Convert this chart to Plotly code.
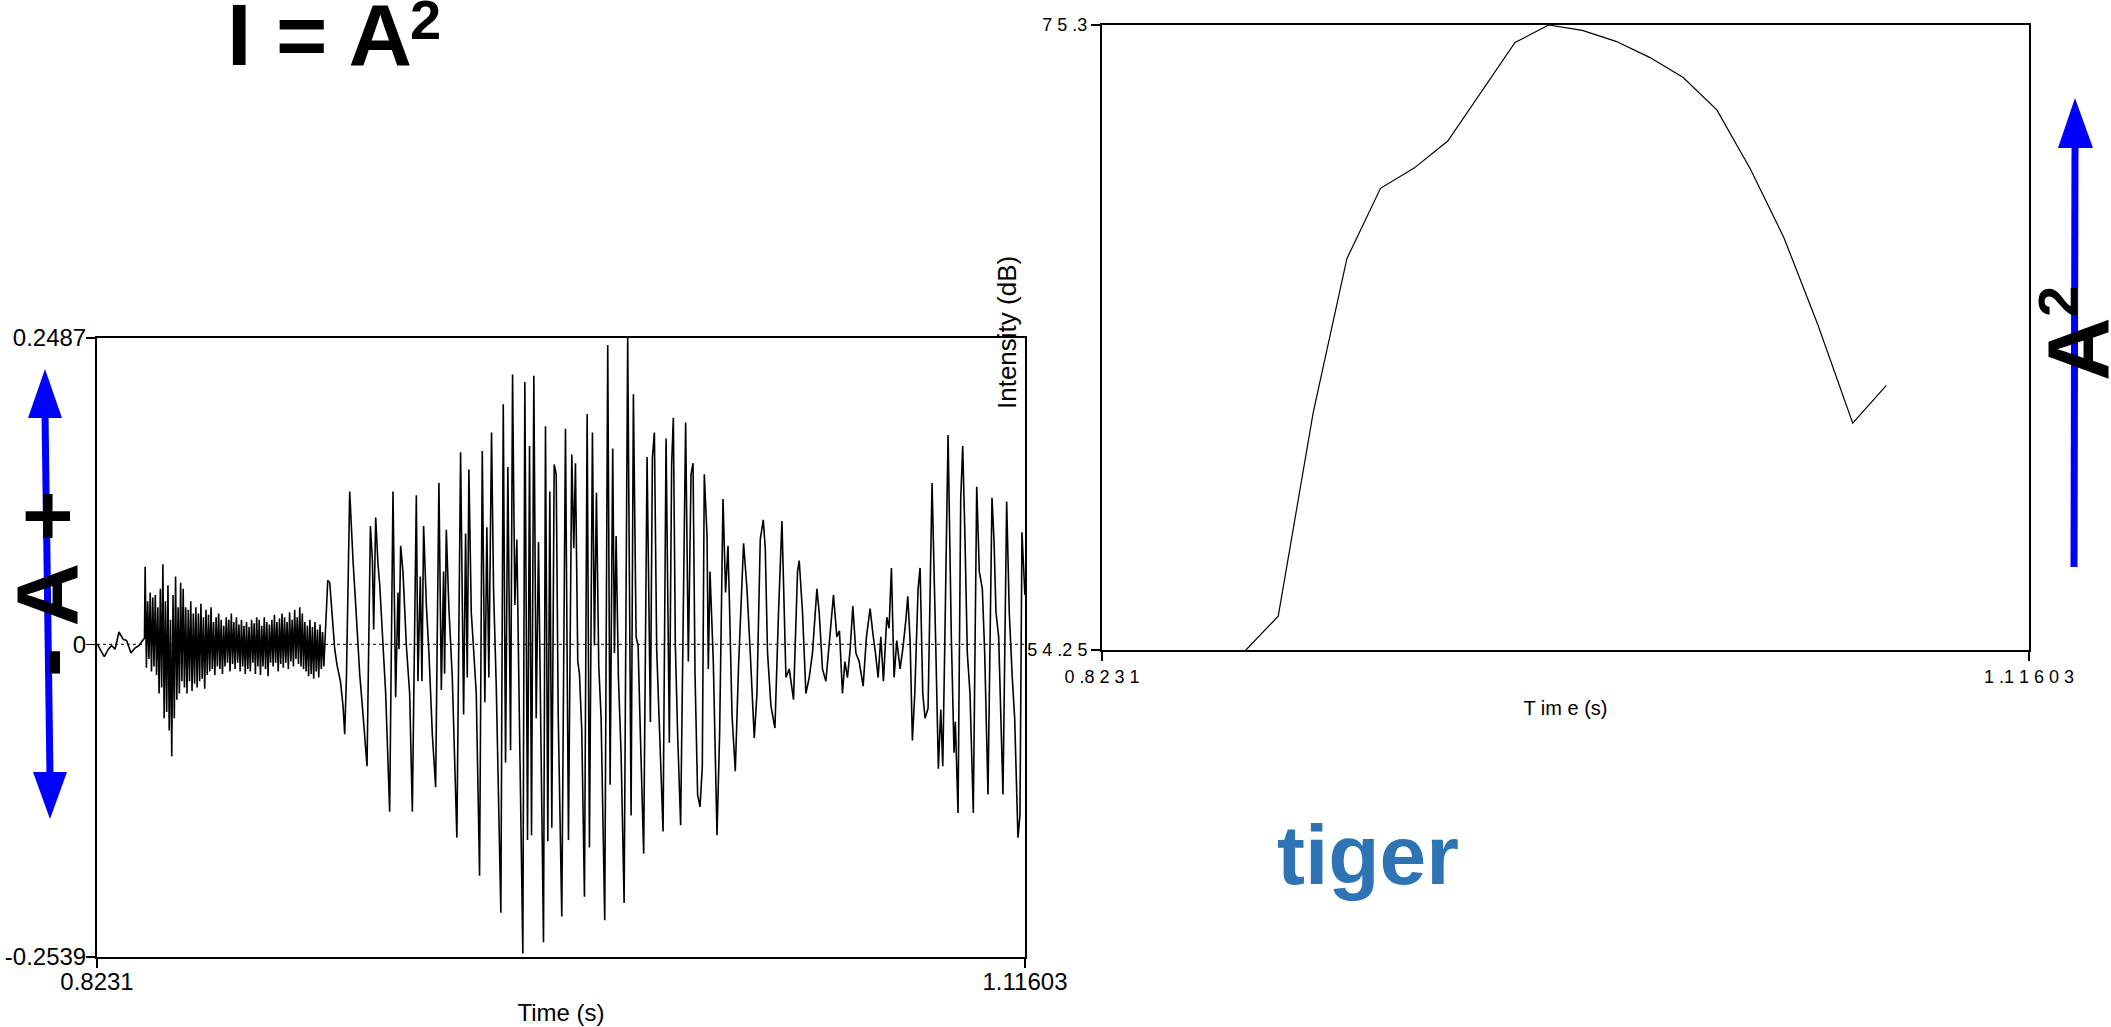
import plotly.graph_objects as go

W, H = 2111, 1027

# ---------------- data ----------------
T_START = 0.8231
T_END = 1.11603
AMP_MIN = -0.2539
AMP_MAX = 0.2487
DB_MIN = 54.25
DB_MAX = 75.3

# waveform, times in ms after T_START, amplitudes in thousandths
pre_ms = [0.22, 0.95, 2.30, 3.56, 4.63, 5.68, 6.94, 8.29, 9.36, 10.72, 11.98, 13.24, 14.41, 14.98]
pre_amp = [0, -4, -10, -4, -1, -4, 10, 4, 3, -7, -3, -1, 3, 5]

# aspiration noise ("t" burst), sampled every 0.4 ms from 15.2 ms
burst_start_ms = 15.2
burst_step_ms = 0.4
burst_amp = [63, -19, 35, -12, 42, -22, 38, -18, 40, -25,
             30, -40, 45, -35, 65, -60, 35, -55, 48, -70,
             20, -91, 40, -60, 55, -45, 30, -40, 50, -30,
             45, -35, 30, -40, 28, -30, 35, -38, 25, -32,
             30, -35, 25, -30, 33, -28, 22, -36, 28, -25,
             24, -22, 30, -20, 18, -25, 22, -18, 25, -20,
             20, -24, 15, -18, 22, -15, 20, -22, 25, -16,
             18, -20, 22, -15, 16, -22, 20, -18, 15, -24,
             18, -20, 14, -22, 20, -15, 17, -24, 22, -18,
             20, -25, 15, -18, 22, -20, 18, -26, 16, -15,
             20, -18, 24, -15, 18, -22, 21, -16, 25, -19,
             22, -15, 18, -20, 26, -14, 20, -18, 28, -12,
             22, -16, 30, -18, 25, -20, 18, -22, 15, -26,
             20, -24, 14, -28, 18, -22, 12, -27, 16, -20, 10, -18]

vowel_a_ms = [72.84, 73.47, 74.31, 75.04, 75.77, 76.84, 77.66, 78.19, 78.73, 79.77, 80.81, 81.66, 82.92, 83.97,
              85.23, 86.30, 86.93, 87.34, 87.97, 88.70, 89.23, 90.08, 91.12, 92.38, 93.43, 94.27, 95.00, 95.32,
              95.85, 96.58, 97.65, 98.69, 99.54, 100.80, 101.31, 102.06, 102.57, 103.10, 103.96, 104.78, 105.85,
              106.89, 107.93, 108.69, 109.41, 109.72, 110.26, 111.08, 112.15, 113.60, 114.77, 115.72, 116.35,
              116.88, 117.39, 118.14, 118.87, 119.72, 120.76, 121.61, 122.43, 123.06, 123.69, 124.54, 125.17,
              126.03, 127.48, 128.24, 128.96, 129.69, 130.54, 131.17, 131.89, 132.53, 133.16, 134.42, 135.05,
              135.90, 136.53, 137.16, 137.89, 138.64, 139.37, 139.90, 140.94, 141.57, 142.30, 142.93, 143.56,
              144.32, 144.95, 145.58, 146.71, 147.88]
vowel_a_amp = [52, 50, 21, -4, -17, -30, -50, -73, -27, 124, 68, 32, -24, -57,
               -99, 96, 68, 12, 103, 65, 49, 9, -40, -136, 124, -43, 42, -4,
               80, 59, -1, -40, -136, 121, -30, 55, -30, 96, 32, -7, -73,
               -116, 131, -37, 59, -24, 93, 29, -27, -157, 156, -57, 90,
               -27, 142, 26, -4, -40, -188, 157, -47, 95, -27, 172, 45,
               -34, -218, 195, -96, 144, -86, 219, 32, 85, -30, -251, 213,
               -159, 161, -155, 218, -60, 83, -30, -242, 177, -160, 124, -149,
               146, 138, -57, -221, 175]

vowel_b_ms = [148.82, 149.87, 150.50, 151.03, 151.76, 152.29, 153.02, 153.87, 154.72, 155.44, 156.39, 157.02,
              157.65, 158.38, 159.13, 160.27, 161.22, 161.97, 162.79, 163.33, 163.86, 164.59, 165.44, 166.39,
              167.52, 168.59, 169.32, 170.17, 170.80, 171.52, 172.56, 173.63, 174.68, 175.31, 175.94, 176.67,
              177.61, 178.68, 179.63, 180.67, 181.39, 181.93, 182.56, 183.28, 184.23, 185.81, 186.66, 187.51,
              188.14, 188.77, 189.59, 190.35, 191.07, 191.70, 192.56, 192.96, 193.50, 194.54, 195.71, 196.53,
              197.60, 198.42, 199.18, 199.68, 200.44, 201.48, 202.52, 204.10, 205.17, 206.21, 207.47, 208.32,
              209.36, 210.31, 210.94, 211.66, 212.73, 213.99, 215.13, 216.21, 217.47, 218.51, 219.86, 221.12]
vowel_b_amp = [-159, 154, 78, 147, -14, -24, -70, -205, 187, -165, 172, -1,
               123, -17, -60, -224, 243, -114, 159, -7, 88, -27, -89, -210,
               249, -139, 203, 6, -1, -73, -170, 152, -63, 151, 172, -4,
               -73, -152, 167, -80, 146, 184, -1, -73, -147, 180, -14, 138,
               147, -24, -122, -132, -99, 138, 88, -20, 59, -14, -155, -73,
               118, 42, 80, 29, -57, -103, -17, 82, 45, -7, -76, -40,
               85, 101, 78, -7, -50, -68, 26, 100, -27, -20, -45, 59]

coda_ms = [221.66, 222.70, 223.77, 224.81, 225.85, 227.24, 227.96, 229.00, 230.07, 231.43, 232.47, 233.54,
           234.36, 235.31, 236.07, 236.89, 237.74, 238.59, 239.54, 240.58, 241.84, 242.88, 244.04, 244.90,
           245.72, 246.57, 247.42, 248.24, 249.31, 250.03, 250.76, 251.61, 252.46, 253.50, 254.35, 255.30,
           255.93, 256.66, 257.38, 258.14, 259.18, 259.81, 260.66, 261.38, 262.33, 263.59, 264.76, 265.58,
           266.34, 266.97, 267.60, 268.64, 269.68, 270.53, 270.94, 271.79, 272.64, 273.27, 273.99, 274.72,
           275.57, 276.61, 277.69, 278.51, 279.46, 280.21, 281.25, 282.51, 283.14, 283.77, 284.62, 285.98,
           287.14, 287.96, 288.91, 289.67, 290.71, 291.34, 291.97, 292.90]
coda_amp = [68, 26, -40, -27, -7, 45, 26, -20, -30, 9, 40, 6,
            11, -40, -14, -27, -4, 31, -7, -14, -34, 6, 29, 9,
            -7, -27, 6, -30, 22, 13, 62, -27, 3, -20, -4, 19,
            39, 3, -78, -40, 45, 62, -40, -60, -52, 131, -1, -101,
            -53, -99, -1, 170, 6, -88, -63, -137, 118, 161, 85, -7,
            -40, -137, 128, 59, 45, -7, -122, 119, 85, 26, 6, -122,
            116, 26, -27, -60, -157, -139, 91, 40]

# intensity contour (dB)
int_time = [0.86859, 0.87879, 0.88985, 0.90048, 0.91111, 0.92173, 0.93236, 0.94299, 0.95362, 0.96425,
            0.97488, 0.98551, 0.99614, 1.00676, 1.01739, 1.02802, 1.03865, 1.04928, 1.06033, 1.07096]
int_db = [54.25, 55.39, 62.25, 67.43, 69.80, 70.48, 71.39, 73.07, 74.71, 75.30,
          75.12, 74.75, 74.21, 73.53, 72.44, 70.44, 68.12, 65.21, 61.89, 63.16]

# ---------------- assemble waveform ----------------
burst_ms = [burst_start_ms + i * burst_step_ms for i in range(len(burst_amp))]
all_ms = pre_ms + burst_ms + vowel_a_ms + vowel_b_ms + coda_ms
all_amp = pre_amp + burst_amp + vowel_a_amp + vowel_b_amp + coda_amp
wave_t = [T_START + m / 1000.0 for m in all_ms]
wave_a = [a / 1000.0 for a in all_amp]


def fx(px):
    return px / W


def fy(py):
    return 1 - py / H


FONT = "Liberation Sans, Arial, sans-serif"
NARROW = "Liberation Sans Narrow, Arial Narrow, Liberation Sans, Arial, sans-serif"

fig = go.Figure()
fig.add_trace(go.Scatter(x=wave_t, y=wave_a, mode="lines", xaxis="x", yaxis="y",
                         line=dict(color="black", width=1.6, simplify=False),
                         hoverinfo="skip", showlegend=False))
fig.add_trace(go.Scatter(x=int_time, y=int_db, mode="lines", xaxis="x2", yaxis="y2",
                         line=dict(color="black", width=1.2),
                         hoverinfo="skip", showlegend=False))

axis_common = dict(showline=True, mirror=True, linecolor="black", linewidth=2,
                   showgrid=False, zeroline=False, ticks="outside", tickcolor="black",
                   ticklen=9, tickwidth=1.5, automargin=False, fixedrange=True)

fig.update_layout(
    width=W, height=H,
    margin=dict(l=0, r=0, t=0, b=0, pad=0, autoexpand=False),
    paper_bgcolor="white", plot_bgcolor="white",
    showlegend=False, hovermode=False,
    xaxis=dict(domain=[fx(97), fx(1025)], range=[T_START, T_END],
               tickvals=[T_START, T_END], ticktext=["0.8231", "1.11603"],
               tickfont=dict(family=FONT, size=24, color="black"), ticklabelstandoff=-7,
               title=dict(text="Time (s)", font=dict(family=FONT, size=24, color="black"), standoff=10),
               anchor="y", **axis_common),
    yaxis=dict(domain=[fy(957), fy(338)], range=[AMP_MIN, AMP_MAX],
               tickvals=[AMP_MIN, 0, AMP_MAX], ticktext=["-0.2539", "0", "0.2487"],
               tickfont=dict(family=FONT, size=24, color="black"), ticklabelstandoff=-5,
               anchor="x", **axis_common),
    xaxis2=dict(domain=[fx(1102), fx(2029)], range=[T_START, T_END],
                tickvals=[T_START, T_END], ticktext=["0 .8 2 3 1", "1 .1 1 6 0 3"],
                tickfont=dict(family=NARROW, size=18, color="black"),
                title=dict(text="T im e (s)", font=dict(family=NARROW, size=20, color="black"), standoff=15),
                anchor="y2", **axis_common),
    yaxis2=dict(domain=[fy(650), fy(25)], range=[DB_MIN, DB_MAX],
                tickvals=[DB_MIN, DB_MAX], ticktext=["5 4 .2 5", "7 5 .3"],
                tickfont=dict(family=NARROW, size=18, color="black"),
                anchor="x2", **axis_common),
)

# dotted zero line in the waveform panel
fig.add_shape(type="line", xref="x domain", yref="y", x0=0, x1=1, y0=0, y1=0,
              line=dict(color="black", width=1, dash="dot"), layer="above")

BLUE = "#0000FF"


def tri(p1, p2, p3):
    return "M {} {} L {} {} L {} {} Z".format(fx(p1[0]), fy(p1[1]), fx(p2[0]), fy(p2[1]),
                                              fx(p3[0]), fy(p3[1]))


# left double arrow
fig.add_shape(type="line", xref="paper", yref="paper", x0=fx(45), y0=fy(414), x1=fx(50), y1=fy(776),
              line=dict(color=BLUE, width=7))
fig.add_shape(type="path", xref="paper", yref="paper", path=tri((45, 369), (28, 418), (62, 418)),
              fillcolor=BLUE, line=dict(width=0))
fig.add_shape(type="path", xref="paper", yref="paper", path=tri((33, 772), (67, 772), (50, 819)),
              fillcolor=BLUE, line=dict(width=0))
# right arrow
fig.add_shape(type="line", xref="paper", yref="paper", x0=fx(2075), y0=fy(144), x1=fx(2074), y1=fy(567),
              line=dict(color=BLUE, width=7))
fig.add_shape(type="path", xref="paper", yref="paper", path=tri((2075, 98), (2058, 148), (2093, 148)),
              fillcolor=BLUE, line=dict(width=0))

BIG = dict(family=FONT, size=88, color="black")
SUP = dict(family=FONT, size=56, color="black")
ann = []
# title "I = A²" (exponent drawn as its own raised label)
ann.append(dict(text="<b>I = A</b>", x=fx(225), y=fy(34), xanchor="left", yanchor="middle", font=BIG))
ann.append(dict(text="<b>2</b>", x=fx(425), y=fy(20), xanchor="center", yanchor="middle", font=SUP))
ann.append(dict(text="<b>- A +</b>", x=fx(46), y=fy(584), xanchor="center", yanchor="middle", textangle=-90,
                font=BIG))
# rotated "A²" on the right
ann.append(dict(text="<b>A</b>", x=fx(2077), y=fy(349), xanchor="center", yanchor="middle",
                textangle=-90, font=BIG))
ann.append(dict(text="<b>2</b>", x=fx(2058), y=fy(302), xanchor="center", yanchor="middle",
                textangle=-90, font=SUP))
ann.append(dict(text="<b>tiger</b>", x=fx(1368), y=fy(855), xanchor="center", yanchor="middle",
                font=dict(family=FONT, size=84, color="#2E74B5")))
ann.append(dict(text="Intensity (dB)", x=fx(1007), y=fy(333), xanchor="center", yanchor="middle",
                textangle=-90, font=dict(family=FONT, size=26, color="black")))
for a in ann:
    a.update(xref="paper", yref="paper", showarrow=False)
fig.update_layout(annotations=ann)

fig.write_html("out.html", config={"displayModeBar": False, "staticPlot": True},
               post_script="document.body.style.margin='0px';document.body.style.overflow='hidden';")
